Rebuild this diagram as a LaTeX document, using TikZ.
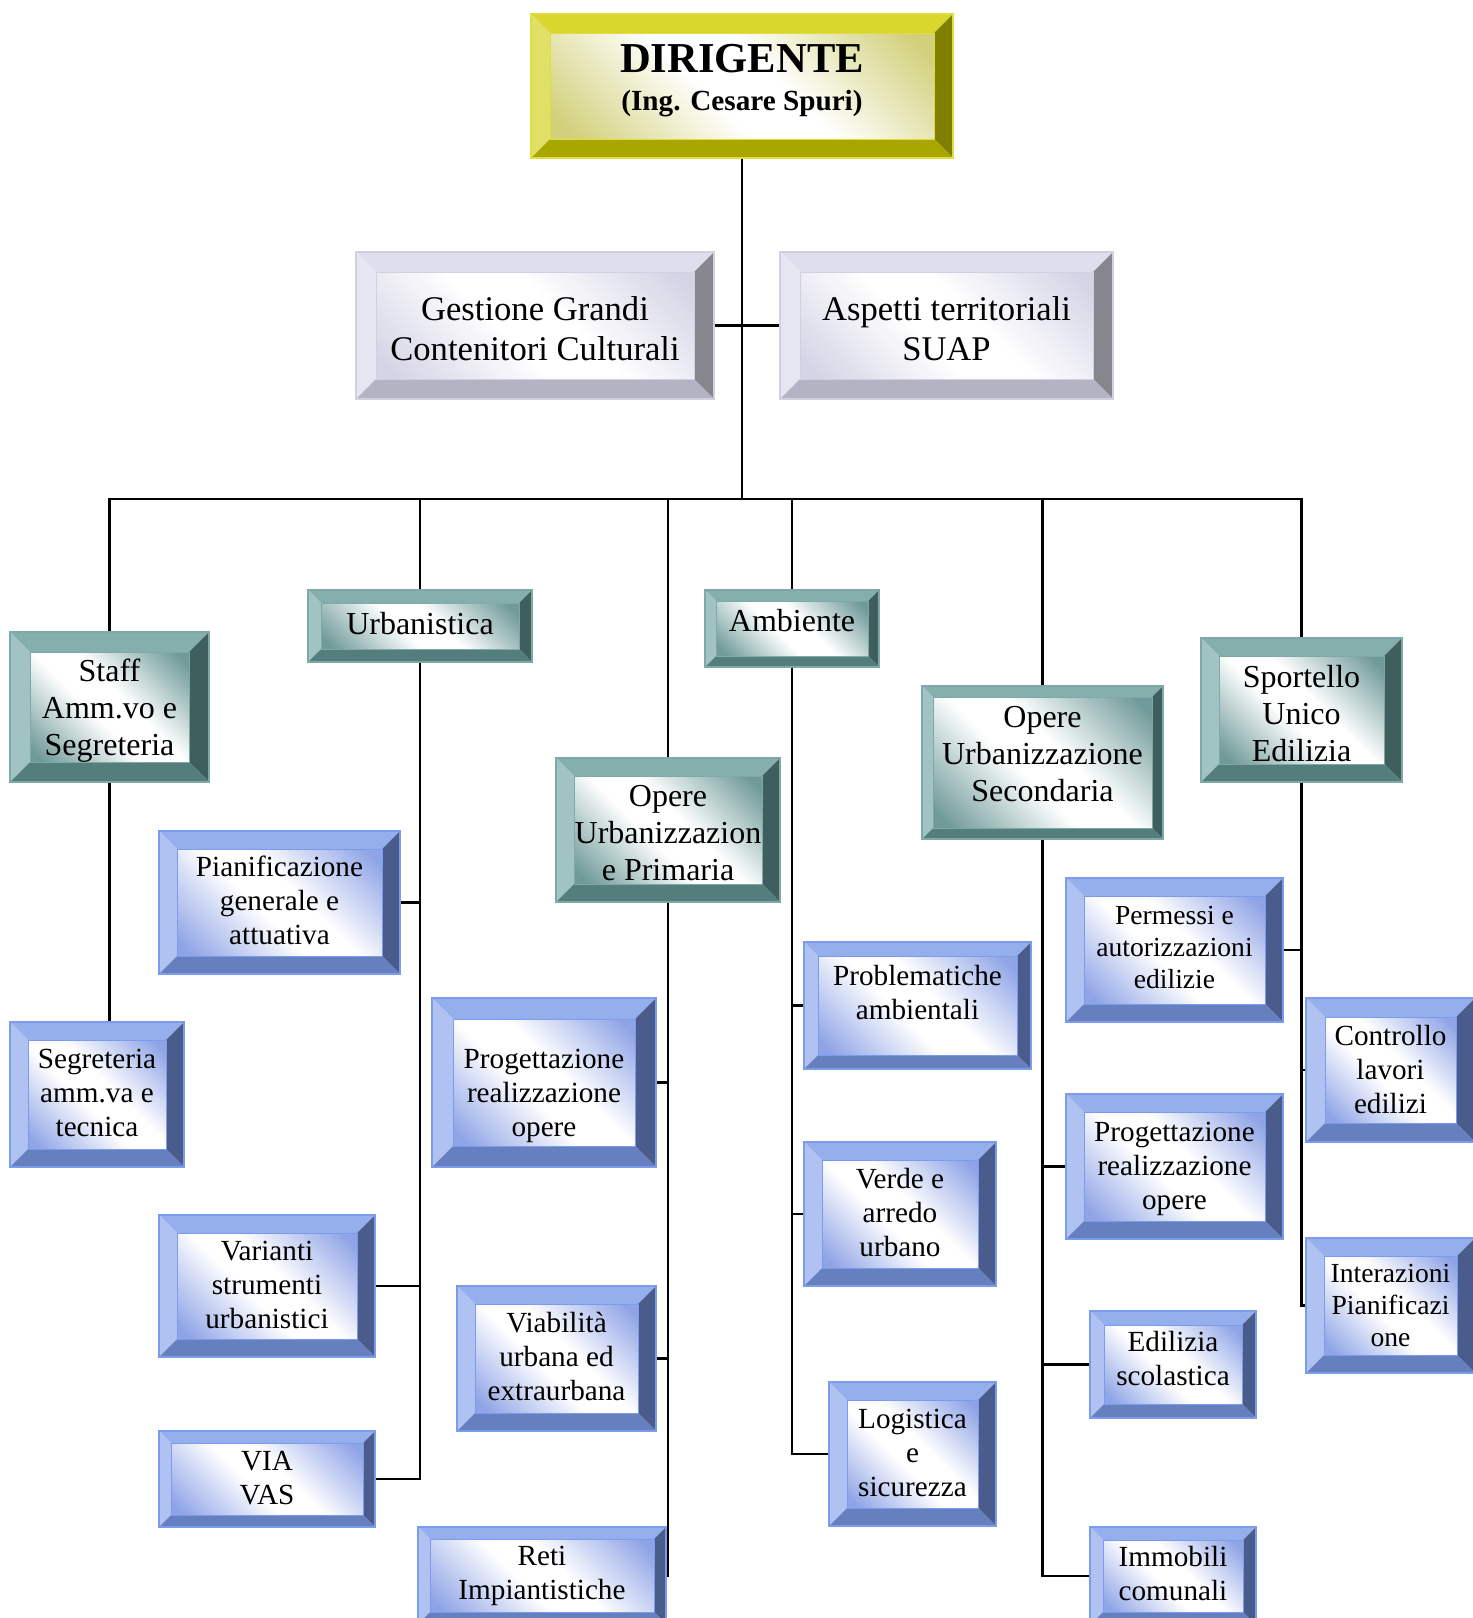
\documentclass[tikz,border=0pt]{standalone}
\usepackage{fontspec}
\setmainfont{Liberation Serif}
% palettes: T top, L left, R right, B bottom, O outline, I inner tint
\definecolor{bluT}{HTML}{95AEEC}\definecolor{bluL}{HTML}{AFC2F2}\definecolor{bluR}{HTML}{4A5C8C}
\definecolor{bluB}{HTML}{667FBF}\definecolor{bluO}{HTML}{7B9CEB}\definecolor{bluI}{HTML}{8FA4E6}
\definecolor{tlT}{HTML}{84AFAD}\definecolor{tlL}{HTML}{A1C3C3}\definecolor{tlR}{HTML}{3F5E5E}
\definecolor{tlB}{HTML}{537E7C}\definecolor{tlO}{HTML}{7FA9A7}\definecolor{tlI}{HTML}{6F9A99}
\definecolor{ylT}{HTML}{D9D62E}\definecolor{ylL}{HTML}{E1E066}\definecolor{ylR}{HTML}{807F00}
\definecolor{ylB}{HTML}{A9A600}\definecolor{ylO}{HTML}{E0DD40}\definecolor{ylI}{HTML}{D2D07A}
\definecolor{grT}{HTML}{DEDEEE}\definecolor{grL}{HTML}{E6E6F2}\definecolor{grR}{HTML}{86868F}
\definecolor{grB}{HTML}{B3B3C4}\definecolor{grO}{HTML}{D0D0E0}\definecolor{grI}{HTML}{D4D4E6}
\pgfdeclarehorizontalshading{shblu}{100bp}{color(0bp)=(bluI); color(18bp)=(bluI); color(44bp)=(white); color(56bp)=(white); color(82bp)=(bluI); color(100bp)=(bluI)}
\pgfdeclarehorizontalshading{shtl}{100bp}{color(0bp)=(tlI); color(18bp)=(tlI); color(44bp)=(white); color(56bp)=(white); color(82bp)=(tlI); color(100bp)=(tlI)}
\pgfdeclarehorizontalshading{shyl}{100bp}{color(0bp)=(ylI); color(18bp)=(ylI); color(44bp)=(white); color(56bp)=(white); color(82bp)=(ylI); color(100bp)=(ylI)}
\pgfdeclarehorizontalshading{shgr}{100bp}{color(0bp)=(grI); color(18bp)=(grI); color(44bp)=(white); color(56bp)=(white); color(82bp)=(grI); color(100bp)=(grI)}
% #1 name, #2 x1, #3 y1, #4 x2, #5 y2, #6 bevel, #7 palette, #8 text options, #9 text
\newcommand\bevbox[9]{%
  \shade[shading=sh#7, shading angle=45] (#2+#6,#3+#6) rectangle (#4-#6,#5-#6);
  \fill[#7T] (#2,#3) -- (#4,#3) -- (#4-#6,#3+#6) -- (#2+#6,#3+#6) -- cycle;
  \fill[#7L] (#2,#3) -- (#2+#6,#3+#6) -- (#2+#6,#5-#6) -- (#2,#5) -- cycle;
  \fill[#7R] (#4,#3) -- (#4,#5) -- (#4-#6,#5-#6) -- (#4-#6,#3+#6) -- cycle;
  \fill[#7B] (#2,#5) -- (#2+#6,#5-#6) -- (#4-#6,#5-#6) -- (#4,#5) -- cycle;
  \draw[#7O, line width=0.5pt] (#2+#6,#3+#6) rectangle (#4-#6,#5-#6);
  \node[rectangle, inner sep=0pt, draw=#7O, line width=0.6pt, minimum width={(#4-#2)*0.5pt}, minimum height={(#5-#3)*0.5pt}] (#1) at ({(#2+#4)/2},{(#3+#5)/2}) {};
  \node[boxtext, #8] at (#1.center) {#9};
}
\begin{document}
\begin{tikzpicture}[x=0.5pt,y=-0.5pt,
  conn/.style={line width=1.2pt, black},
  boxtext/.style={inner sep=0pt, align=center, text=black},
  fblue/.style={font=\fontsize{14.6}{17}\selectfont},
  fblues/.style={font=\fontsize{13.8}{16}\selectfont},
  fteal/.style={font=\fontsize{16}{18.5}\selectfont},
  fgrey/.style={font=\fontsize{17.3}{20}\selectfont},
  fdir/.style={font=\bfseries\fontsize{14.6}{19}\selectfont}]
\useasboundingbox (0,0) rectangle (1473,1618);
\fill[white] (0,0) rectangle (1473,1618);
\clip (0,0) rectangle (1473,1618);

% top level
\bevbox{dir}{531}{14}{953}{158}{19}{yl}{fdir, yshift=2.6pt}{{\fontsize{21.3}{19}\selectfont DIRIGENTE}\\(Ing. Cesare Spuri)}
\bevbox{gest}{356}{252}{714}{399}{20}{gr}{fgrey, yshift=-1.8pt}{Gestione Grandi\\Contenitori Culturali}
\bevbox{asp}{780}{252}{1113}{399}{20}{gr}{fgrey, yshift=-1.8pt}{Aspetti territoriali\\SUAP}

% teal units
\bevbox{staff}{10}{632}{209}{782}{20}{tl}{fteal, yshift=-2pt}{Staff\\Amm.vo e\\Segreteria}
\bevbox{urb}{308}{590}{532}{662}{13}{tl}{fteal, yshift=1pt}{Urbanistica}
\bevbox{amb}{705}{590}{879}{667}{11}{tl}{fteal, yshift=4pt}{Ambiente}
\bevbox{prim}{556}{758}{780}{902}{18}{tl}{fteal, yshift=-1.5pt}{Opere\\Urbanizzazion\\e Primaria}
\bevbox{sec}{922}{686}{1163}{839}{11}{tl}{fteal, yshift=4pt}{Opere\\Urbanizzazione\\Secondaria}
\bevbox{sport}{1201}{638}{1402}{782}{18}{tl}{fteal, yshift=-1.7pt}{Sportello\\Unico\\Edilizia}

% blue offices
\bevbox{pian}{159}{831}{400}{974}{18}{blu}{fblue, yshift=1.2pt}{Pianificazione\\generale e\\attuativa}
\bevbox{segr}{10}{1022}{184}{1167}{18}{blu}{fblue, yshift=0.9pt}{Segreteria\\amm.va e\\tecnica}
\bevbox{var}{159}{1215}{375}{1357}{18}{blu}{fblue, yshift=0.5pt}{Varianti\\strumenti\\urbanistici}
\bevbox{via}{159}{1431}{375}{1527}{12}{blu}{fblue, yshift=0.5pt}{VIA\\VAS}
\bevbox{progL}{432}{998}{656}{1167}{21}{blu}{fblue, yshift=-6.7pt}{Progettazione\\realizzazione\\opere}
\bevbox{viab}{457}{1286}{656}{1431}{18}{blu}{fblue, yshift=1pt}{Viabilità\\urbana ed\\extraurbana}
\bevbox{reti}{418}{1527}{666}{1624}{12}{blu}{fblue}{Reti\\Impiantistiche}
\bevbox{prob}{804}{942}{1031}{1069}{14}{blu}{fblue, yshift=6.5pt}{Problematiche\\ambientali}
\bevbox{verde}{804}{1142}{996}{1286}{18}{blu}{fblue, yshift=1pt}{Verde e\\arredo\\urbano}
\bevbox{logi}{829}{1382}{996}{1526}{18}{blu}{fblue, yshift=0.5pt}{Logistica\\e\\sicurezza}
\bevbox{perm}{1066}{878}{1283}{1022}{18}{blu}{fblues, yshift=1.5pt}{Permessi e\\autorizzazioni\\edilizie}
\bevbox{progR}{1066}{1094}{1283}{1239}{18}{blu}{fblue, yshift=-1pt}{Progettazione\\realizzazione\\opere}
\bevbox{edil}{1090}{1311}{1256}{1418}{14}{blu}{fblue, yshift=3pt}{Edilizia\\scolastica}
\bevbox{imm}{1090}{1527}{1256}{1625}{13}{blu}{fblue, yshift=1.3pt}{Immobili\\comunali}
\bevbox{contr}{1306}{998}{1475}{1142}{19}{blu}{fblue, yshift=0.5pt}{Controllo\\lavori\\edilizi}
\bevbox{inter}{1306}{1238}{1475}{1373}{18}{blu}{fblues}{Interazioni\\Pianificazi\\one}

% connectors
\coordinate (bj) at (742,499);
\draw[conn] (dir.south) -- (bj);
\draw[conn] (gest.east) -- (asp.west);
\draw[conn] (staff.north) |- (bj) -| (sport.north);
\draw[conn] (urb.north) -- (urb.north |- bj);
\draw[conn] (prim.north) -- (prim.north |- bj);
\draw[conn] (amb.north) -- (amb.north |- bj);
\draw[conn] (sec.north) -- (sec.north |- bj);

\draw[conn] (staff.south) -- (staff.south |- segr.north);

\draw[conn] (urb.south) |- (via.east);
\draw[conn] (urb.south) |- (pian.east);
\draw[conn] (urb.south) |- (var.east);

\draw[conn] (prim.south) |- (reti.east);
\draw[conn] (prim.south) |- (progL.east);
\draw[conn] (prim.south) |- (viab.east);

\draw[conn] (amb.south) |- (logi.west);
\draw[conn] (amb.south) |- (prob.west);
\draw[conn] (amb.south) |- (verde.west);

\draw[conn] (sec.south) |- (imm.west);
\draw[conn] (sec.south) |- (progR.west);
\draw[conn] (sec.south) |- (edil.west);

\draw[conn] (sport.south) |- (inter.west);
\draw[conn] (sport.south) |- (perm.east);
\draw[conn] (sport.south) |- (contr.west);
\end{tikzpicture}
\end{document}
